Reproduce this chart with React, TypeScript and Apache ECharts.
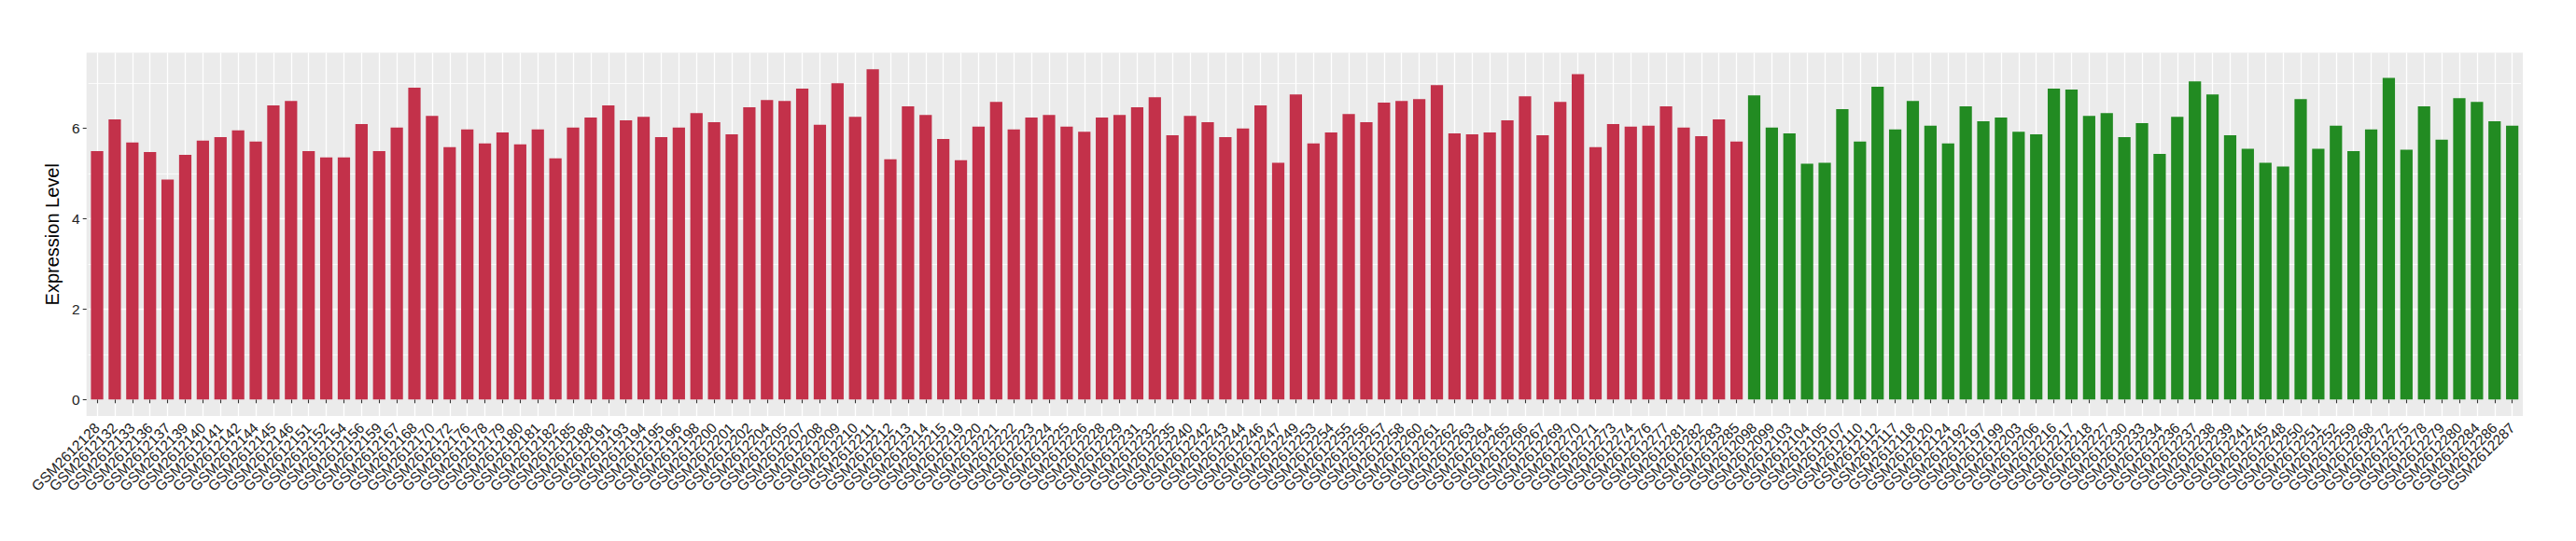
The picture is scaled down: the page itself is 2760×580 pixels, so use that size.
import React, { useEffect, useRef } from "react";
import * as echarts from "echarts";

const redSamples = [
  "GSM2612128", "GSM2612132", "GSM2612133", "GSM2612136", "GSM2612137", "GSM2612139", "GSM2612140", "GSM2612141",
  "GSM2612142", "GSM2612144", "GSM2612145", "GSM2612146", "GSM2612151", "GSM2612152", "GSM2612154", "GSM2612156",
  "GSM2612159", "GSM2612167", "GSM2612168", "GSM2612170", "GSM2612172", "GSM2612176", "GSM2612178", "GSM2612179",
  "GSM2612180", "GSM2612181", "GSM2612182", "GSM2612185", "GSM2612188", "GSM2612191", "GSM2612193", "GSM2612194",
  "GSM2612195", "GSM2612196", "GSM2612198", "GSM2612200", "GSM2612201", "GSM2612202", "GSM2612204", "GSM2612205",
  "GSM2612207", "GSM2612208", "GSM2612209", "GSM2612210", "GSM2612211", "GSM2612212", "GSM2612213", "GSM2612214",
  "GSM2612215", "GSM2612219", "GSM2612220", "GSM2612221", "GSM2612222", "GSM2612223", "GSM2612224", "GSM2612225",
  "GSM2612226", "GSM2612228", "GSM2612229", "GSM2612231", "GSM2612232", "GSM2612235", "GSM2612240", "GSM2612242",
  "GSM2612243", "GSM2612244", "GSM2612246", "GSM2612247", "GSM2612249", "GSM2612253", "GSM2612254", "GSM2612255",
  "GSM2612256", "GSM2612257", "GSM2612258", "GSM2612260", "GSM2612261", "GSM2612262", "GSM2612263", "GSM2612264",
  "GSM2612265", "GSM2612266", "GSM2612267", "GSM2612269", "GSM2612270", "GSM2612271", "GSM2612273", "GSM2612274",
  "GSM2612276", "GSM2612277", "GSM2612281", "GSM2612282", "GSM2612283", "GSM2612285",
];

const redValues = [
  5.49, 6.19, 5.68, 5.47, 4.86, 5.41, 5.72, 5.80, 5.95, 5.70, 6.50, 6.60, 5.49, 5.35, 5.35, 6.09,
  5.49, 6.01, 6.89, 6.27, 5.58, 5.97, 5.66, 5.90, 5.64, 5.97, 5.33, 6.01,
  6.23, 6.50, 6.17, 6.25, 5.80, 6.01, 6.33, 6.13, 5.86, 6.46, 6.62, 6.60, 6.87, 6.07, 6.99, 6.25,
  7.30, 5.31, 6.48, 6.29, 5.76, 5.29, 6.03, 6.58, 5.97, 6.23, 6.29, 6.03,
  5.92, 6.23, 6.29, 6.46, 6.68, 5.84, 6.27, 6.13, 5.80, 5.99, 6.50, 5.23, 6.74, 5.66, 5.90, 6.31,
  6.13, 6.56, 6.60, 6.64, 6.95, 5.88, 5.86, 5.90, 6.17, 6.70, 5.84,
  6.58, 7.19, 5.58, 6.09, 6.03, 6.05, 6.48, 6.01, 5.82, 6.19, 5.70,
];

const greenSamples = [
  "GSM2612098", "GSM2612099", "GSM2612103", "GSM2612104", "GSM2612105", "GSM2612107", "GSM2612110", "GSM2612112",
  "GSM2612117", "GSM2612118", "GSM2612120", "GSM2612124", "GSM2612192", "GSM2612197", "GSM2612199", "GSM2612203",
  "GSM2612206", "GSM2612216", "GSM2612217", "GSM2612218", "GSM2612227", "GSM2612230", "GSM2612233", "GSM2612234",
  "GSM2612236", "GSM2612237", "GSM2612238", "GSM2612239", "GSM2612241", "GSM2612245", "GSM2612248", "GSM2612250",
  "GSM2612251", "GSM2612252", "GSM2612259", "GSM2612268", "GSM2612272", "GSM2612275", "GSM2612278", "GSM2612279",
  "GSM2612280", "GSM2612284", "GSM2612286", "GSM2612287",
];

const greenValues = [
  6.72, 6.01, 5.88, 5.21, 5.23, 6.42, 5.70, 6.91, 5.97, 6.60, 6.05, 5.66, 6.48, 6.15, 6.23, 5.92, 5.86,
  6.87, 6.85, 6.27, 6.33, 5.80, 6.11, 5.43, 6.25, 7.03, 6.74, 5.84, 5.54, 5.23, 5.15, 6.64, 5.54, 6.05,
  5.49, 5.97, 7.11, 5.52, 6.48, 5.74, 6.66, 6.58, 6.15, 6.05,
];

const yMajorTicks = [0, 2, 4, 6];
const yMinorTicks = [1, 3, 5, 7];

const RED = "#C3314A";
const GREEN = "#228B22";

export default function App() {
  const ref = useRef<HTMLDivElement>(null);

  useEffect(() => {
    if (!ref.current) return;
    const chart = echarts.init(ref.current, null, { renderer: "svg" });
    const categories = [...redSamples, ...greenSamples];
    const redData = [...redValues, ...greenSamples.map(() => null)];
    const greenData = [...redSamples.map(() => null), ...greenValues];
    const maxV = Math.max(...redValues, ...greenValues);
    const pad = maxV * 0.05;

    chart.setOption({
      animation: false,
      backgroundColor: "#ffffff",
      textStyle: { fontFamily: "'Liberation Sans', Arial, Helvetica, sans-serif" },
      graphic: [
        {
          type: "rect",
          z: -10,
          silent: true,
          shape: { x: 92.7, y: 56.5, width: 2610.3, height: 389.5 },
          style: { fill: "#EBEBEB" },
        },
      ],
      grid: { left: 94.6, right: 58.9, top: 56.5, bottom: 134, containLabel: false },
      xAxis: {
        type: "category",
        data: categories,
        boundaryGap: true,
        axisLine: { show: false },
        axisTick: { show: true, alignWithLabel: true, length: 4, lineStyle: { color: "#333333", width: 1.1 } },
        axisLabel: { interval: 0, rotate: 45, fontSize: 15.5, color: "#222222", margin: 10 },
        splitLine: { show: true, alignWithLabel: true, interval: 0, lineStyle: { color: "#ffffff", width: 1.3 } },
      },
      yAxis: {
        type: "value",
        min: -pad,
        max: maxV + pad,
        splitNumber: 4,
        offset: 1.9,
        name: "Expression Level",
        nameLocation: "middle",
        nameGap: 17,
        nameTextStyle: { fontSize: 20, color: "#000000" },
        axisLine: { show: false },
        axisTick: { show: true, length: 4, customValues: yMajorTicks, lineStyle: { color: "#333333", width: 1.1 } },
        axisLabel: {
          fontSize: 15.5,
          color: "#222222",
          margin: 7,
          customValues: yMajorTicks,
        },
        splitLine: { show: true, showMinLine: false, showMaxLine: false, lineStyle: { color: "#ffffff", width: 1.4 } },
      },
      series: [
        {
          name: "group1",
          type: "bar",
          stack: "all",
          barWidth: "70%",
          data: redData,
          itemStyle: { color: RED },
          silent: true,
          markLine: {
            silent: true,
            symbol: "none",
            z: 1,
            label: { show: false },
            lineStyle: { color: "#ffffff", width: 0.8, type: "solid" },
            emphasis: { disabled: true },
            data: yMinorTicks.map((v) => ({ yAxis: v })),
          },
        },
        {
          name: "group2",
          type: "bar",
          stack: "all",
          barWidth: "70%",
          data: greenData,
          itemStyle: { color: GREEN },
          silent: true,
        },
      ],
    });

    return () => chart.dispose();
  }, []);

  return (
    <div
      ref={ref}
      style={{ position: "absolute", left: 0, top: 0, width: 2760, height: 580 }}
    />
  );
}
